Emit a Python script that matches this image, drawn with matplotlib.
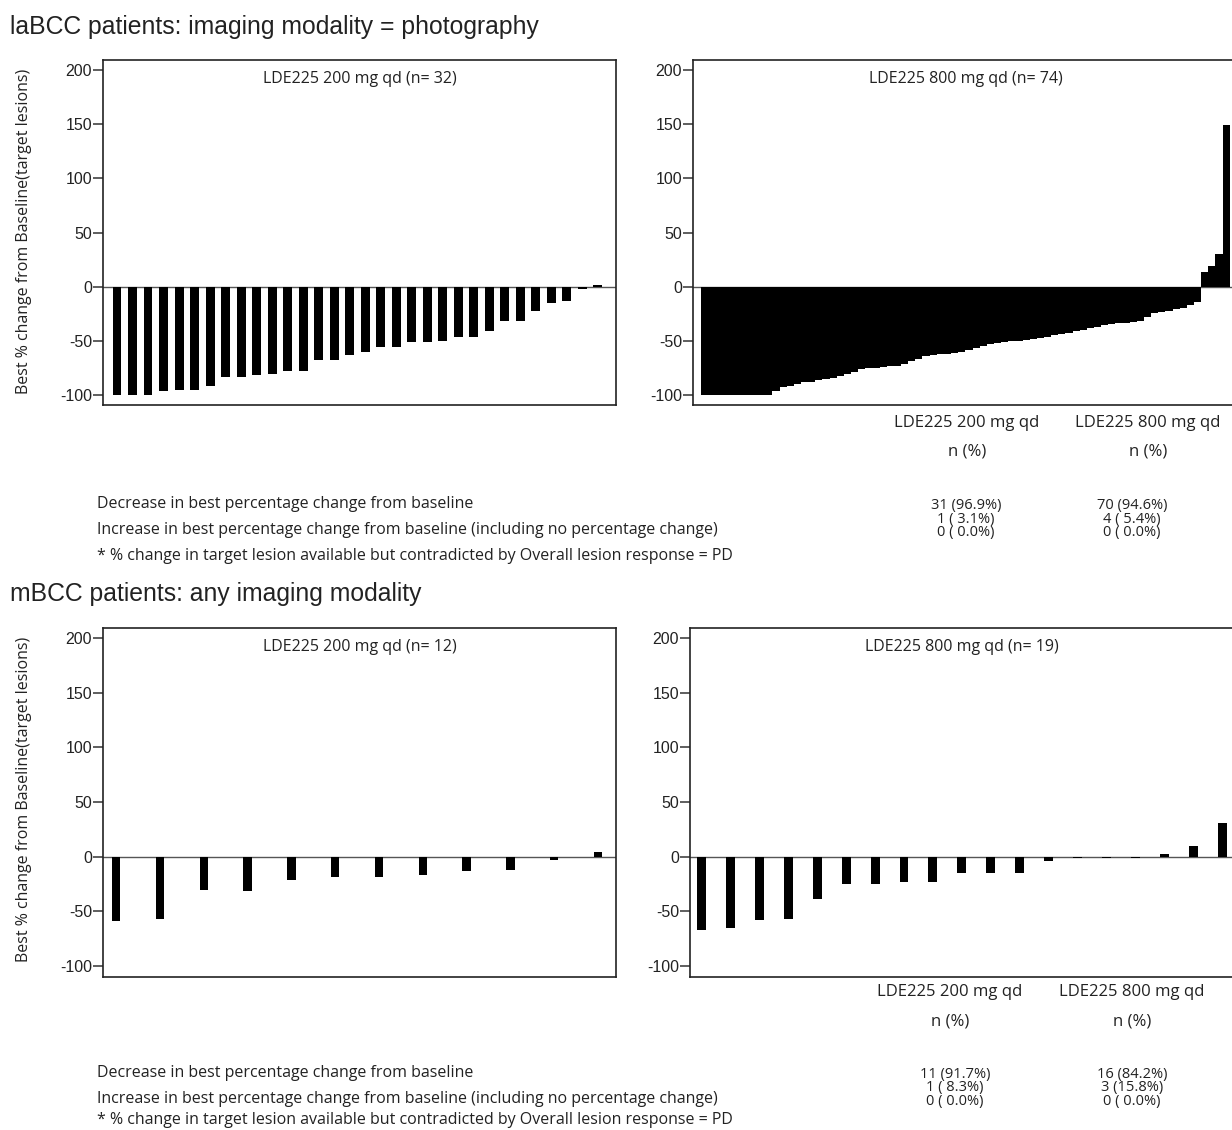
import matplotlib
matplotlib.use("Agg")
import matplotlib.pyplot as plt
import numpy as np

W, H = 1232, 1130

# ---------------- data ----------------
la_200_values = [-100, -100, -100, -96, -95, -95, -91, -83, -83, -81, -80, -77, -77,
                 -67, -67, -63, -60, -55, -55, -51, -51, -50, -46, -46, -41, -31,
                 -31, -22, -15, -13, -2, 2]
la_800_values = [-100] * 10 + [
    -96, -92, -91, -89, -88, -88, -86, -85, -84, -82, -80, -78, -76, -75, -75,
    -74, -73, -73, -71, -68, -66, -64, -63, -62, -62, -61, -60, -58, -56, -54,
    -53, -52, -51, -50, -50, -49, -48, -47, -46, -44, -43, -42, -41, -40, -38,
    -37, -35, -34, -33, -33, -32, -31, -28, -24, -23, -22, -20, -19, -17, -14,
    14, 19, 30, 149]
m_200_values = [-59, -57, -30, -31, -21, -18.5, -18.5, -17, -13.5, -12, -3, 4]
m_800_values = [-67, -65, -57.5, -57, -39, -25, -25, -23.5, -23.5, -15, -15, -15,
                -4, -1.5, -1.5, -1, 2.5, 10, 31]

yticks = [-100, -50, 0, 50, 100, 150, 200]
ylabel = "Best % change from Baseline(target lesions)"
section_titles = ["laBCC patients: imaging modality = photography",
                  "mBCC patients: any imaging modality"]
panel_titles = ["LDE225 200 mg qd (n= 32)", "LDE225 800 mg qd (n= 74)",
                "LDE225 200 mg qd (n= 12)", "LDE225 800 mg qd (n= 19)"]
table_headers = ["LDE225 200 mg qd", "LDE225 800 mg qd"]
row_labels = ["Decrease in best percentage change from baseline",
              "Increase in best percentage change from baseline (including no percentage change)",
              "* % change in target lesion available but contradicted by Overall lesion response = PD"]
la_200_counts = ["31 (96.9%)", "1 ( 3.1%)", "0 ( 0.0%)"]
la_800_counts = ["70 (94.6%)", "4 ( 5.4%)", "0 ( 0.0%)"]
m_200_counts = ["11 (91.7%)", "1 ( 8.3%)", "0 ( 0.0%)"]
m_800_counts = ["16 (84.2%)", "3 (15.8%)", "0 ( 0.0%)"]

# ---------------- figure ----------------
fig = plt.figure(figsize=(W / 100, H / 100), dpi=100)
fig.patch.set_facecolor("white")

TICKFONT = "Liberation Sans"
TXTFONT = "Open Sans"
TXTCOL = "#222222"


def px_axes(l, t, r, b):
    return fig.add_axes([l / W, 1 - b / H, (r - l) / W, (b - t) / H])


def ftext(x, y, s, **kw):
    fig.text(x / W, 1 - y / H, s, **kw)


def make_panel(box, values, width, xlim, ylim, title):
    ax = px_axes(*box)
    x = np.arange(1, len(values) + 1)
    ax.bar(x, values, width=width, color="black", edgecolor="none", zorder=3)
    ax.axhline(0, color="#555555", lw=1.0, zorder=2)
    ax.set_xlim(*xlim)
    ax.set_ylim(*ylim)
    ax.set_yticks(yticks)
    ax.set_yticklabels([str(v) for v in yticks], fontsize=11.5, family=TICKFONT,
                       color=TXTCOL)
    ax.tick_params(axis="y", direction="out", length=7, width=1.1, pad=1,
                   color="#333333")
    ax.set_xticks([])
    for sp in ax.spines.values():
        sp.set_linewidth(1.2)
        sp.set_color("#222222")
    ax.text(0.5, 0.968, title, transform=ax.transAxes, ha="center", va="top",
            fontsize=11.5, family=TXTFONT, color=TXTCOL)
    return ax


# top row
make_panel((103, 60, 616, 405), la_200_values, 0.58, (0.097, 33.19), (-108.8, 209.2),
           panel_titles[0])
make_panel((693, 60, 1239, 405), la_800_values, 1.0, (-0.62, 75.8), (-108.8, 209.2),
           panel_titles[1])
# bottom row
make_panel((103, 628, 616, 977), m_200_values, 0.19, (0.70, 12.41), (-110, 209.2),
           panel_titles[2])
make_panel((690, 628, 1234, 977), m_800_values, 0.31, (0.60, 19.41), (-110, 209.2),
           panel_titles[3])

# section titles
ftext(10, 27, section_titles[0], fontsize=17.8, family="Liberation Sans",
      ha="left", va="center", color=TXTCOL)
ftext(10, 594, section_titles[1], fontsize=17.8, family="Liberation Sans",
      ha="left", va="center", color=TXTCOL)

# y labels
for yc in (231, 799):
    ftext(24, yc, ylabel, fontsize=11.5, family=TXTFONT, rotation=90,
          ha="center", va="center", color=TXTCOL)


def table(y0, hx, counts_a, counts_b, cx_a, cx_b, last_y=None):
    for hxx, hdr in zip(hx, table_headers):
        ftext(hxx, y0, hdr, fontsize=12, family=TXTFONT, ha="center",
              va="center", color=TXTCOL)
        ftext(hxx, y0 + 29, "n (%)", fontsize=12, family=TXTFONT, ha="center",
              va="center", color=TXTCOL)
    for i, lab in enumerate(row_labels):
        yy = y0 + 81 + i * 26
        if last_y is not None and i == len(row_labels) - 1:
            yy = last_y
        ftext(97, yy, lab, fontsize=11.5, family=TXTFONT, ha="left",
              va="center", color=TXTCOL)
    for cx, counts in ((cx_a, counts_a), (cx_b, counts_b)):
        ftext(cx, y0 + 96, "\n".join(counts), fontsize=10.5, family=TXTFONT,
              ha="center", va="center", multialignment="center",
              linespacing=0.82, color=TXTCOL)


table(423, (967, 1148), la_200_counts, la_800_counts, 966, 1132)
table(992, (950, 1132), m_200_counts, m_800_counts, 955, 1132, last_y=1120)

fig.savefig("out.png", dpi=100, facecolor="white")
